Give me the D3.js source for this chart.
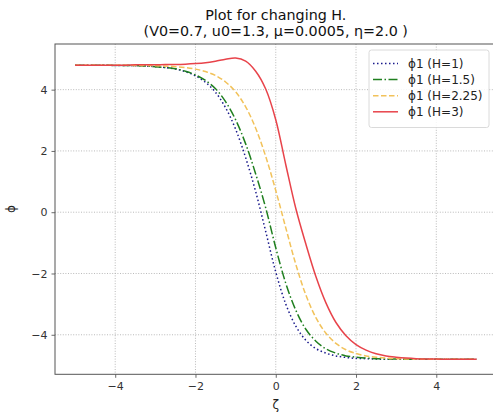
<!DOCTYPE html>
<html><head><meta charset="utf-8">
<script src="https://cdn.jsdelivr.net/npm/d3@7"></script>
<style>body{margin:0;background:#fff}svg{display:block}text{font-family:"DejaVu Sans",sans-serif}</style>
</head><body>
<svg id="c" width="493" height="413"></svg>
<script>
const zeta = [-5,-4.75,-4.5,-4.25,-4,-3.75,-3.5,-3.25,-3,-2.75,-2.5,-2.25,-2,-1.75,-1.5,-1.25,-1,-0.75,-0.5,-0.25,0,0.25,0.5,0.75,1,1.25,1.5,1.75,2,2.25,2.5,2.75,3,3.25,3.5,3.75,4,4.25,4.5,4.75,5];
const phiH1 = [4.80,4.80,4.80,4.80,4.79,4.79,4.78,4.77,4.75,4.72,4.67,4.59,4.45,4.24,3.91,3.41,2.71,1.78,0.67,-0.63,-1.95,-3.00,-3.72,-4.18,-4.45,-4.60,-4.69,-4.74,-4.77,-4.78,-4.79,-4.80,-4.80,-4.80,-4.80,-4.80,-4.80,-4.80,-4.80,-4.80,-4.80];
const phiH15 = [4.80,4.80,4.80,4.80,4.79,4.79,4.78,4.77,4.75,4.72,4.68,4.60,4.48,4.30,4.03,3.61,3.02,2.23,1.25,0.14,-1.16,-2.32,-3.20,-3.82,-4.21,-4.46,-4.60,-4.69,-4.73,-4.76,-4.78,-4.79,-4.79,-4.80,-4.80,-4.80,-4.80,-4.80,-4.80,-4.80,-4.80];
const phiH225 = [4.80,4.80,4.80,4.80,4.80,4.80,4.79,4.79,4.78,4.77,4.75,4.72,4.67,4.59,4.46,4.25,3.93,3.44,2.74,1.82,0.71,-0.51,-1.70,-2.70,-3.44,-3.95,-4.28,-4.49,-4.61,-4.69,-4.73,-4.76,-4.78,-4.79,-4.79,-4.80,-4.80,-4.80,-4.80,-4.80,-4.80];
const phiH3 = [4.80,4.80,4.80,4.80,4.80,4.80,4.81,4.81,4.81,4.82,4.82,4.83,4.85,4.88,4.93,4.99,5.03,4.93,4.60,4.02,3.02,1.55,0.12,-1.04,-2.10,-2.96,-3.60,-4.03,-4.32,-4.50,-4.62,-4.69,-4.73,-4.76,-4.78,-4.79,-4.79,-4.80,-4.80,-4.80,-4.80];
const seriesNames = ["ϕ1 (H=1)","ϕ1 (H=1.5)","ϕ1 (H=2.25)","ϕ1 (H=3)"];
const xTicks = [-4,-2,0,2,4];
const yTicks = [-4,-2,0,2,4];

const series = [
  {name:seriesNames[0], values:phiH1, color:"#1a1a8c", dash:"1.5,2.5"},
  {name:seriesNames[1], values:phiH15, color:"#1f7f1f", dash:"9,2.5,1.5,2.5"},
  {name:seriesNames[2], values:phiH225, color:"#f2c25a", dash:"5.5,2.5"},
  {name:seriesNames[3], values:phiH3, color:"#e8434a", dash:null}
];

const svg = d3.select("#c");
const L=55, R=496.5, T=44, B=374.3;
const x = d3.scaleLinear().domain([-5.5,5.5]).range([L,R]);
const y = d3.scaleLinear().domain([-5.29,5.49]).range([B,T]);

// grid
const g = svg.append("g");
g.selectAll(".gx").data(xTicks).join("line")
  .attr("x1",d=>x(d)).attr("x2",d=>x(d)).attr("y1",T).attr("y2",B)
  .attr("stroke","#a8a8a8").attr("stroke-width",0.8).attr("stroke-dasharray","1,1.6");
g.selectAll(".gy").data(yTicks).join("line")
  .attr("y1",d=>y(d)).attr("y2",d=>y(d)).attr("x1",L).attr("x2",R)
  .attr("stroke","#a8a8a8").attr("stroke-width",0.8).attr("stroke-dasharray","1,1.6");

// lines
const line = d3.line().x((d,i)=>x(zeta[i])).y(d=>y(d)).curve(d3.curveCatmullRom.alpha(0.5));
series.forEach(s=>{
  svg.append("path").attr("d",line(s.values)).attr("fill","none")
    .attr("stroke",s.color).attr("stroke-width",1.5)
    .attr("stroke-dasharray",s.dash);
});

// axes
const fmt = d=>d<0?"\u2212"+Math.abs(d):d;
const xAxis = d3.axisBottom(x).tickValues(xTicks).tickSize(3.5).tickPadding(4).tickFormat(fmt);
const yAxis = d3.axisLeft(y).tickValues(yTicks).tickSize(3.5).tickPadding(4).tickFormat(fmt);
const gx = svg.append("g").attr("transform",`translate(0,${B})`).call(xAxis);
const gy = svg.append("g").attr("transform",`translate(${L},0)`).call(yAxis);
[gx,gy].forEach(a=>{
  a.select(".domain").remove();
  a.selectAll("line").attr("stroke","#444").attr("stroke-width",0.8);
  a.selectAll("text").attr("font-size",11).attr("fill","#333").attr("font-family","DejaVu Sans");
});

// frame
svg.append("rect").attr("x",L).attr("y",T).attr("width",R-L).attr("height",B-T)
  .attr("fill","none").attr("stroke","#555").attr("stroke-width",1);

// labels
svg.append("text").attr("x",(L+R)/2).attr("y",20).attr("text-anchor","middle")
  .attr("font-size",14.3).attr("fill","#111").text("Plot for changing H.");
svg.append("text").attr("x",(L+R)/2).attr("y",35.5).attr("text-anchor","middle")
  .attr("font-size",14.3).attr("fill","#111").text("(V0=0.7, u0=1.3, μ=0.0005, η=2.0 )");
svg.append("text").attr("x",(L+R)/2).attr("y",409).attr("text-anchor","middle")
  .attr("font-size",12).attr("fill","#222").text("ζ");
svg.append("text").attr("transform",`translate(15,${(T+B)/2}) rotate(-90)`).attr("text-anchor","middle")
  .attr("font-size",12).attr("fill","#222").text("ϕ");

// legend
const lg = svg.append("g");
lg.append("rect").attr("x",369).attr("y",50).attr("width",120).attr("height",77.5).attr("rx",2.5)
  .attr("fill","#fff").attr("fill-opacity",0.85).attr("stroke","#d0d0d0").attr("stroke-width",0.8);
series.forEach((s,i)=>{
  const yy = 63.5 + i*16.1;
  lg.append("line").attr("x1",373).attr("x2",398).attr("y1",yy).attr("y2",yy)
    .attr("stroke",s.color).attr("stroke-width",1.5).attr("stroke-dasharray",s.dash);
  lg.append("text").attr("x",408).attr("y",yy+4.3).attr("font-size",12).attr("fill","#222").text(s.name);
});
</script>
</body></html>
